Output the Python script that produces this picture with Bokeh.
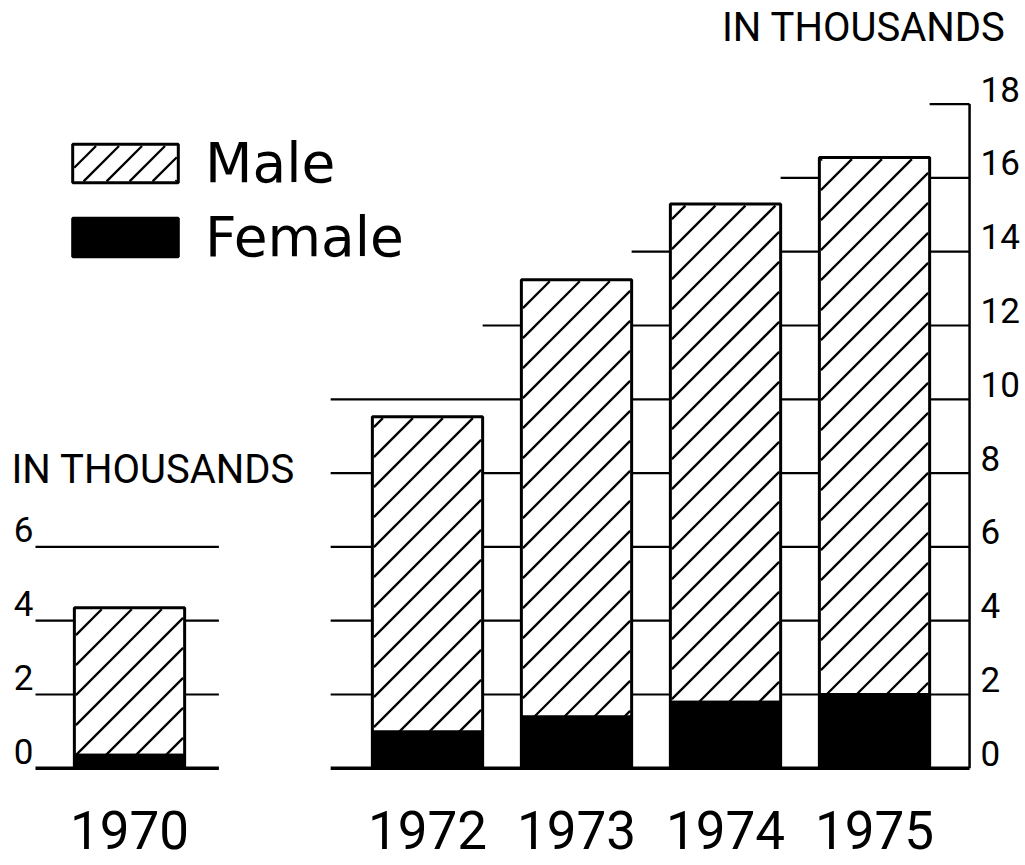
from bokeh.plotting import figure
from bokeh.models import Range1d, FixedTicker, ColumnDataSource, Legend, LegendItem
from bokeh.core.properties import value
from bokeh.embed import file_html
from bokeh.resources import INLINE

# ---------------- data ----------------
years = [1970, 1972, 1973, 1974, 1975]
year_labels = ["1970", "1972", "1973", "1974", "1975"]
male = [4.0, 8.55, 11.85, 13.5, 14.55]
female = [0.35, 0.98, 1.39, 1.79, 2.0]
left_ticks = [0, 2, 4, 6]
right_ticks = [0, 2, 4, 6, 8, 10, 12, 14, 16, 18]
unit_label = "IN THOUSANDS"
series_names = ["Male", "Female"]

# ---------------- layout constants ----------------
PX_X = 149.0          # pixels per year
PX_Y = 36.9           # pixels per thousand
FRAME_W, FRAME_H = 1024, 770
X0 = 1969.1342
X1 = X0 + FRAME_W / PX_X
Y0 = -0.06
Y1 = Y0 + FRAME_H / PX_Y
BAR_W = 0.74
LEFT_PANEL_START = 1969.369
LEFT_PANEL_END = 1970.6
RIGHT_PANEL_START = 1971.35
RIGHT_AXIS_X = 1975.638
FULL_GRID_MAX = 10
NUM_FONT = "Roboto"
LEG_FONT = "DejaVu Sans"
HATCH_STEP = 30       # px between hatch lines in the bars
LEG_HATCH_STEP = 23
LEG_LOC = (59, 501)
LEG_GW, LEG_GH = 132, 48
LEG_SWATCH_TOP = 645 - LEG_LOC[1]   # px from top of the figure (male swatch)

p = figure(frame_width=FRAME_W, frame_height=FRAME_H,
           x_range=Range1d(X0, X1), y_range=Range1d(Y0, Y1),
           output_backend="svg", toolbar_location=None,
           y_axis_location=None, min_border_left=0, min_border_right=0,
           min_border_top=0, min_border_bottom=95)
p.outline_line_color = None
p.grid.visible = False
p.background_fill_color = "white"
p.border_fill_color = "white"


def to_px(x, y):
    return (x - X0) * PX_X, (y - Y0) * PX_Y


def to_data(u, v):
    return X0 + u / PX_X, Y0 + v / PX_Y


def hatch_rect(a0, a1, b0, b1, step, out):
    """45-degree '/' lines clipped to a pixel rectangle (u right, v up)."""
    k = int((b0 - a1) // step)
    while k * step <= b1 - a0:
        c = k * step
        lo = max(a0, b0 - c)
        hi = min(a1, b1 - c)
        if hi - lo > 0.5:
            xa, ya = to_data(lo, lo + c)
            xb, yb = to_data(hi, hi + c)
            out[0].append(xa); out[1].append(ya); out[2].append(xb); out[3].append(yb)
        k += 1


# ---------------- grid lines ----------------
totals = [m + f for m, f in zip(male, female)]
gx0, gx1, gy, gw = [], [], [], []
for lv in left_ticks:
    gx0.append(LEFT_PANEL_START); gx1.append(LEFT_PANEL_END); gy.append(lv)
    gw.append(3.5 if lv == 0 else 2.2)
for lv in right_ticks:
    start = RIGHT_PANEL_START
    if lv > FULL_GRID_MAX:
        for yr, tot in zip(years[1:], totals[1:]):
            if tot < lv:
                start = yr + BAR_W / 2
    gx0.append(start); gx1.append(RIGHT_AXIS_X); gy.append(lv)
    gw.append(3.5 if lv == 0 else 2.2)
grid_src = ColumnDataSource(dict(x0=gx0, x1=gx1, y=gy, w=gw))
p.segment(x0="x0", y0="y", x1="x1", y1="y", line_width="w", line_color="black",
          source=grid_src)
# right value axis line
p.segment(x0=[RIGHT_AXIS_X], y0=[right_ticks[0]], x1=[RIGHT_AXIS_X],
          y1=[right_ticks[-1]], line_width=2.5, line_color="black")

# ---------------- bars ----------------
src = ColumnDataSource(dict(x=years, female=female, top=totals))
# white ground of the male segments (hides the grid lines)
p.vbar(x="x", width=BAR_W, bottom="female", top="top", source=src,
       fill_color="white", line_color=None)
r_f = p.vbar(x="x", width=BAR_W, bottom=0, top="female", source=src,
             fill_color="black", line_color="black", line_width=3)

# hatch of the male segments
hx = ([], [], [], [])
for yr, f, t in zip(years, female, totals):
    u0, v0 = to_px(yr - BAR_W / 2, f)
    u1, v1 = to_px(yr + BAR_W / 2, t)
    hatch_rect(u0 + 1.5, u1 - 1.5, v0, v1 - 1.5, HATCH_STEP, hx)
# hatch of the legend swatch (swatch = inner 80% of the legend glyph box)
sw_u0 = LEG_LOC[0] + 0.1 * LEG_GW
sw_u1 = LEG_LOC[0] + 0.9 * LEG_GW
sw_v1 = FRAME_H - LEG_SWATCH_TOP
sw_v0 = sw_v1 - 0.8 * LEG_GH
hatch_rect(sw_u0 + 1.5, sw_u1 - 1.5, sw_v0 + 1.5, sw_v1 - 1.5, LEG_HATCH_STEP, hx)
p.segment(x0=hx[0], y0=hx[1], x1=hx[2], y1=hx[3], line_color="black",
          line_width=2.3, line_cap="butt")

# outline of the male segments (transparent, so the legend swatch shows the hatch)
r_m = p.vbar(x="x", width=BAR_W, bottom="female", top="top", source=src,
             fill_color=None, line_color="black", line_width=3)

# ---------------- axis (years) ----------------
p.xaxis.ticker = FixedTicker(ticks=years)
p.xaxis.major_label_overrides = {y: s for y, s in zip(years, year_labels)}
p.xaxis.axis_line_color = None
p.xaxis.major_tick_line_color = None
p.xaxis.minor_tick_line_color = None
p.xaxis.major_label_text_font = NUM_FONT
p.xaxis.major_label_text_font_size = "53px"
p.xaxis.major_label_text_color = "black"
p.xaxis.major_label_standoff = 34

# ---------------- value labels (sitting on the grid lines) ----------------
lt = ColumnDataSource(dict(x=[LEFT_PANEL_START] * len(left_ticks), y=left_ticks,
                           t=[str(v) for v in left_ticks]))
p.text(x="x", y="y", text="t", source=lt, x_offset=-2, y_offset=-17,
       text_align="right", text_baseline="alphabetic",
       text_font=value(NUM_FONT), text_font_size="35px", text_color="black")
rt = ColumnDataSource(dict(x=[RIGHT_AXIS_X] * len(right_ticks), y=right_ticks,
                           t=[str(v) for v in right_ticks]))
p.text(x="x", y="y", text="t", source=rt, x_offset=11, y_offset=-15,
       text_align="left", text_baseline="alphabetic",
       text_font=value(NUM_FONT), text_font_size="35px", text_color="black")

p.text(x=[LEFT_PANEL_START], y=[7.67], text=[unit_label], x_offset=-24, y_offset=-16,
       text_align="left", text_baseline="alphabetic",
       text_font=value(NUM_FONT), text_font_size="40px", text_color="black")
p.text(x=[RIGHT_AXIS_X], y=[19.67], text=[unit_label], x_offset=36, y_offset=-15,
       text_align="right", text_baseline="alphabetic",
       text_font=value(NUM_FONT), text_font_size="40px", text_color="black")

# ---------------- legend ----------------
legend = Legend(items=[LegendItem(label=series_names[0], renderers=[r_m]),
                       LegendItem(label=series_names[1], renderers=[r_f])],
                location=LEG_LOC, glyph_width=LEG_GW, glyph_height=LEG_GH,
                label_text_font=LEG_FONT, label_text_font_size="55px",
                label_text_color="black",
                label_standoff=14, spacing=10, padding=0, margin=0,
                border_line_color=None, background_fill_alpha=0)
p.add_layout(legend)

open("out.html", "w").write(file_html(p, INLINE))
